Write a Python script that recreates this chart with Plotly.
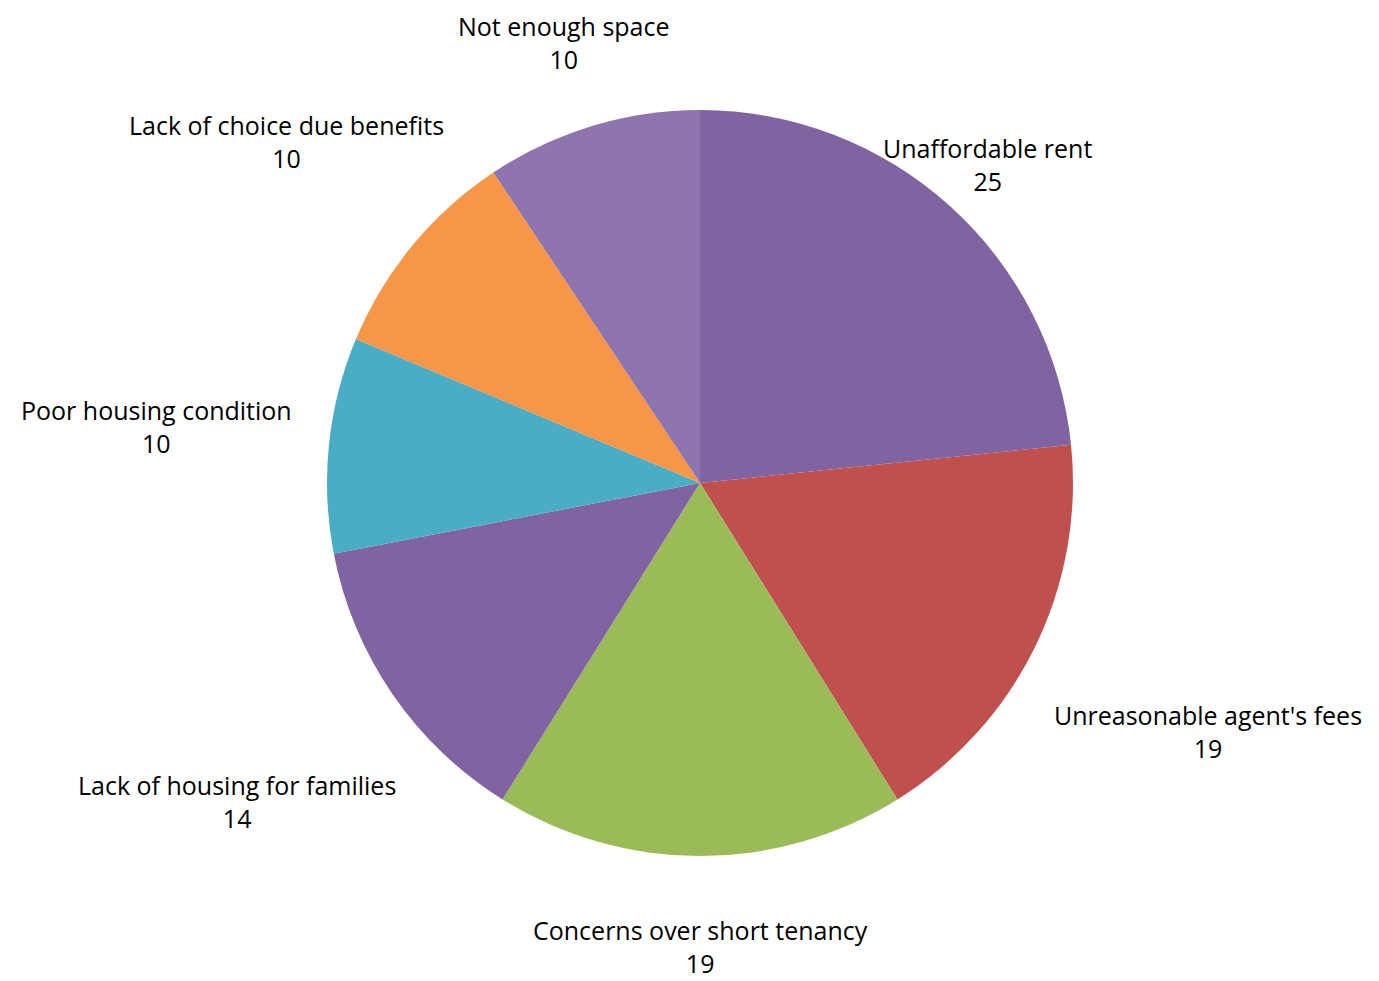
import math
import plotly.graph_objects as go

labels = ["Unaffordable rent", "Unreasonable agent's fees", "Concerns over short tenancy",
          "Lack of housing for families", "Poor housing condition",
          "Lack of choice due benefits", "Not enough space"]
values = [25, 19, 19, 14, 10, 10, 10]
colors = ["#8064A2", "#C0504D", "#9BBB59", "#8064A2", "#4BACC6", "#F79646", "#8E75AD"]

# label distance from centre, in pie radii (layout only)
label_dist = [1.15, 1.515, 1.26, 1.507, 1.464, 1.437, 1.263]

OFF = 8  # default body margin of the page
W, H = 1379 - OFF, 981 - OFF
cx, cy, R = 700 - OFF, 483 - OFF, 373
FSIZE = 25
FONT = dict(family="Open Sans", size=FSIZE, color="#000000")
HALF = FSIZE * 1.3 + 2  # half height of a two-line label box

fig = go.Figure(go.Pie(
    labels=labels, values=values, sort=False, direction="clockwise", rotation=0,
    marker=dict(colors=colors, line=dict(width=0)),
    textinfo="none", hoverinfo="label+value",
    domain=dict(x=[(cx - R) / W, (cx + R) / W], y=[1 - (cy + R) / H, 1 - (cy - R) / H]),
    showlegend=False,
))

total = sum(values)
cum = 0
annotations = []
for lab, v, d in zip(labels, values, label_dist):
    mid = (cum + v / 2) / total * 2 * math.pi
    cum += v
    px = cx + d * R * math.sin(mid)
    py = cy - d * R * math.cos(mid)
    py = min(max(py, HALF), H - HALF)
    annotations.append(dict(
        x=px / W, y=1 - py / H, xref="paper", yref="paper",
        text=f"{lab}<br>{v}", showarrow=False, xanchor="center", yanchor="middle",
        font=FONT, align="center",
    ))

fig.update_layout(
    width=W, height=H, margin=dict(l=0, r=0, t=0, b=0),
    paper_bgcolor="white", plot_bgcolor="white",
    annotations=annotations,
)
fig.write_html("out.html")
